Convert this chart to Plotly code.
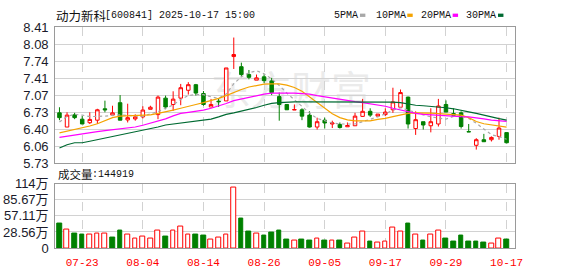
import plotly.graph_objects as go

W, H = 578, 276

dates = ["07-18", "07-21", "07-22", "07-23", "07-24", "07-25", "07-28", "07-29", "07-30", "07-31",
         "08-01", "08-04", "08-05", "08-06", "08-07", "08-08", "08-11", "08-12", "08-13", "08-14",
         "08-15", "08-18", "08-19", "08-20", "08-21", "08-22", "08-25", "08-26", "08-27", "08-28",
         "08-29", "09-01", "09-02", "09-03", "09-04", "09-05", "09-08", "09-09", "09-10", "09-11",
         "09-12", "09-15", "09-16", "09-17", "09-18", "09-19", "09-22", "09-23", "09-24", "09-25",
         "09-26", "09-29", "09-30", "10-09", "10-10", "10-13", "10-14", "10-15", "10-16", "10-17"]

opens = [6.72, 6.44, 6.68, 6.595, 6.525, 6.575, 6.80, 6.675, 6.92, 6.58,
         6.60, 6.64, 6.79, 6.685, 7.01, 6.885, 7.01, 7.165, 7.275, 7.10,
         6.835, 6.95, 6.955, 7.83, 7.63, 7.475, 7.365, 7.43, 7.35, 7.04,
         6.885, 6.775, 6.78, 6.675, 6.44, 6.575, 6.50, 6.49, 6.445, 6.465,
         6.65, 6.75, 6.655, 6.685, 6.78, 6.83, 7.03, 6.41, 6.545, 6.465,
         6.50, 6.885, 6.705, 6.72, 6.35, 6.08, 6.19, 6.19, 6.255, 6.33]
highs = [6.83, 6.73, 6.72, 6.66, 6.73, 6.80, 6.96, 6.86, 7.07, 6.90,
         6.69, 6.85, 6.86, 7.06, 7.06, 7.145, 7.29, 7.325, 7.29, 7.15,
         6.995, 7.01, 7.605, 8.205, 7.71, 7.565, 7.475, 7.48, 7.41, 7.12,
         6.885, 6.885, 6.81, 6.75, 6.625, 6.625, 6.565, 6.53, 6.53, 6.72,
         6.995, 6.81, 6.695, 6.81, 7.215, 7.18, 7.04, 6.75, 6.545, 6.81,
         6.995, 6.965, 6.81, 6.75, 6.50, 6.22, 6.305, 6.255, 6.625, 6.33]
lows = [6.575, 6.44, 6.595, 6.50, 6.50, 6.50, 6.73, 6.655, 6.575, 6.53,
        6.565, 6.61, 6.79, 6.595, 6.79, 6.76, 6.87, 7.08, 7.06, 6.86,
        6.835, 6.835, 6.955, 7.585, 7.43, 7.38, 7.365, 7.305, 7.07, 6.565,
        6.78, 6.775, 6.575, 6.43, 6.39, 6.41, 6.42, 6.41, 6.445, 6.465,
        6.64, 6.64, 6.655, 6.655, 6.72, 6.83, 6.41, 6.285, 6.39, 6.335,
        6.45, 6.735, 6.67, 6.41, 6.345, 5.995, 6.15, 6.155, 6.19, 6.12]
closes = [6.625, 6.675, 6.625, 6.50, 6.59, 6.78, 6.78, 6.72, 6.575, 6.625,
          6.64, 6.775, 6.83, 7.03, 6.835, 6.99, 7.215, 7.275, 7.11, 6.885,
          6.885, 6.94, 7.605, 7.87, 7.475, 7.42, 7.41, 7.355, 7.12, 6.885,
          6.78, 6.785, 6.655, 6.44, 6.545, 6.52, 6.52, 6.43, 6.47, 6.655,
          6.75, 6.675, 6.695, 6.735, 6.935, 7.12, 6.50, 6.585, 6.48, 6.545,
          6.855, 6.735, 6.67, 6.45, 6.345, 6.19, 6.15, 6.235, 6.42, 6.13]

ma5 = [6.54, 6.65, 6.69, 6.675, 6.645, 6.645, 6.655, 6.67, 6.68, 6.67,
       6.66, 6.65, 6.70, 6.745, 6.81, 6.875, 6.985, 7.06, 7.08, 7.08,
       7.035, 7.005, 7.09, 7.295, 7.43, 7.51, 7.55, 7.49, 7.39, 7.26,
       7.11, 6.98, 6.85, 6.715, 6.61, 6.565, 6.52, 6.50, 6.495, 6.50,
       6.545, 6.59, 6.64, 6.70, 6.775, 6.82, 6.77, 6.73, 6.68, 6.64,
       6.61, 6.595, 6.65, 6.655, 6.61, 6.515, 6.40, 6.29, 6.25, 6.20]
ma10 = [6.325, 6.355, 6.385, 6.42, 6.46, 6.505, 6.57, 6.625, 6.655, 6.66,
        6.66, 6.66, 6.68, 6.71, 6.735, 6.775, 6.81, 6.84, 6.885, 6.92,
        6.96, 7.005, 7.06, 7.125, 7.18, 7.23, 7.265, 7.285, 7.29, 7.29,
        7.265, 7.22, 7.145, 7.035, 6.92, 6.80, 6.70, 6.625, 6.58, 6.56,
        6.555, 6.56, 6.59, 6.61, 6.645, 6.68, 6.71, 6.72, 6.72, 6.715,
        6.705, 6.70, 6.69, 6.675, 6.625, 6.55, 6.505, 6.485, 6.47, 6.44]
ma20 = [6.235, 6.26, 6.29, 6.315, 6.335, 6.35, 6.37, 6.39, 6.40, 6.42,
        6.44, 6.475, 6.515, 6.56, 6.60, 6.66, 6.71, 6.73, 6.75, 6.775,
        6.81, 6.85, 6.905, 6.96, 6.995, 7.035, 7.06, 7.09, 7.11, 7.115,
        7.11, 7.11, 7.10, 7.09, 7.06, 7.035, 7.005, 6.99, 6.96, 6.94,
        6.92, 6.90, 6.885, 6.85, 6.81, 6.775, 6.745, 6.71, 6.69, 6.68,
        6.665, 6.66, 6.655, 6.645, 6.64, 6.625, 6.60, 6.575, 6.565, 6.55]
ma30 = [6.025, 6.09, 6.13, 6.13, 6.16, 6.19, 6.22, 6.255, 6.285, 6.315,
        6.34, 6.365, 6.41, 6.44, 6.48, 6.50, 6.53, 6.55, 6.565, 6.585,
        6.595, 6.64, 6.69, 6.72, 6.75, 6.78, 6.825, 6.87, 6.905, 6.92,
        6.93, 6.935, 6.935, 6.935, 6.935, 6.935, 6.935, 6.935, 6.935, 6.935,
        6.935, 6.935, 6.935, 6.935, 6.93, 6.92, 6.89, 6.87, 6.86, 6.85,
        6.84, 6.82, 6.80, 6.775, 6.74, 6.71, 6.67, 6.635, 6.605, 6.575]

# volume in 万, and whether bar is drawn red (up) or green (down)
volumes = [43.4, 32.9, 25.0, 23.4, 23.9, 25.0, 26.2, 18.4, 31.2, 24.5,
           17.8, 21.2, 16.2, 31.2, 20.0, 31.2, 37.9, 24.5, 23.4, 21.7,
           15.0, 19.5, 23.4, 106.3, 51.7, 30.0, 25.0, 21.7, 26.7, 31.7,
           15.0, 12.8, 15.0, 13.4, 17.8, 13.4, 12.8, 13.4, 8.3, 19.5,
           29.5, 11.2, 9.5, 11.2, 36.2, 29.5, 43.4, 23.4, 13.4, 23.4,
           31.2, 16.7, 11.7, 21.7, 11.7, 11.7, 10.0, 7.8, 17.8, 14.4919]
vol_up = [0, 1, 0, 0, 1, 1, 1, 0, 0, 1,
          1, 1, 1, 1, 0, 1, 1, 1, 0, 0,
          1, 1, 1, 1, 0, 0, 1, 0, 0, 0,
          0, 1, 0, 0, 1, 0, 1, 0, 1, 1,
          1, 0, 1, 1, 1, 1, 0, 1, 0, 1,
          1, 0, 0, 0, 0, 0, 0, 1, 1, 0]

price_ticks = [5.73, 6.065, 6.40, 6.735, 7.07, 7.405, 7.74, 8.075, 8.41]
price_labels = ["5.73", "6.06", "6.40", "6.73", "7.07", "7.41", "7.74", "8.08", "8.41"]
vol_ticks = [0, 28.555, 57.11, 85.665, 114.22]
vol_labels = ["0", "28.56万", "57.11万", "85.67万", "114万"]
date_tick_idx = [3, 11, 19, 27, 35, 43, 51, 59]

title_name = "动力新科"
title_rest = "[600841] 2025-10-17 15:00"
vol_title = "成交量"
vol_last = ":144919"
ma_names = ["5PMA", "10PMA", "20PMA", "30PMA"]
ma_colors = ["#a8a8a8", "#f5a300", "#ff00ff", "#006a32"]

RED = "#ff0000"
GREEN = "#008000"

x = list(range(len(dates)))

fig = go.Figure()

fig.add_trace(go.Candlestick(
    x=x, open=opens, high=highs, low=lows, close=closes,
    increasing=dict(line=dict(color=RED, width=1), fillcolor="#ffffff"),
    decreasing=dict(line=dict(color=GREEN, width=1), fillcolor=GREEN),
    whiskerwidth=0, showlegend=False, hoverinfo="skip",
    xaxis="x", yaxis="y"))

for vals, col, dash in [(ma5, ma_colors[0], "dot"), (ma10, ma_colors[1], "solid"),
                        (ma20, ma_colors[2], "solid"), (ma30, ma_colors[3], "solid")]:
    fig.add_trace(go.Scatter(x=x, y=vals, mode="lines",
                             line=dict(color=col, width=1.2, dash=dash),
                             showlegend=False, hoverinfo="skip",
                             xaxis="x", yaxis="y"))

fig.add_trace(go.Bar(
    x=x, y=volumes, width=0.62,
    marker=dict(color=["#ffffff" if u else GREEN for u in vol_up],
                line=dict(color=[RED if u else GREEN for u in vol_up], width=1)),
    showlegend=False, hoverinfo="skip", xaxis="x2", yaxis="y2"))


def px(v):
    return v / W


def py(v):
    return 1 - v / H


xdom = [px(56), px(522)]
xr = [-0.56, 60.08]
grid = "#d2d2d2"
frame = "#9a9a9a"

fig.update_layout(
    width=W, height=H,
    margin=dict(l=0, r=0, t=0, b=0),
    paper_bgcolor="#ffffff", plot_bgcolor="#ffffff",
    boxgap=0.34,
    bargap=0,
    xaxis=dict(domain=xdom, range=xr, anchor="y", tickvals=date_tick_idx,
               showticklabels=False, showgrid=True, gridcolor=grid, griddash="dash",
               gridwidth=1, showline=True, mirror=True, linecolor=frame, linewidth=1,
               zeroline=False, ticks="", rangeslider=dict(visible=False), fixedrange=True),
    yaxis=dict(domain=[py(165), py(21.3)], range=[price_ticks[0], price_ticks[-1]],
               anchor="x", tickvals=price_ticks, ticktext=price_labels,
               tickfont=dict(family="Liberation Sans, Arial", size=13, color="#1a1a2a"),
               showgrid=True, gridcolor=grid, gridwidth=1, showline=True, mirror=True,
               linecolor=frame, linewidth=1, zeroline=False, ticks="outside",
               ticklen=3, tickcolor="#ffffff", fixedrange=True),
    xaxis2=dict(domain=xdom, range=xr, anchor="y2", tickvals=date_tick_idx,
                ticktext=[dates[i] for i in date_tick_idx],
                tickfont=dict(family="Liberation Mono", size=11, color=RED),
                showgrid=True, gridcolor=grid, griddash="dash", gridwidth=1,
                showline=True, mirror=True, linecolor=frame, linewidth=1,
                zeroline=False, ticks="outside", ticklen=4, tickcolor="#ffffff",
                fixedrange=True),
    yaxis2=dict(domain=[py(255), py(186.7)], range=[vol_ticks[0], vol_ticks[-1]],
                anchor="x2", tickvals=vol_ticks, ticktext=vol_labels,
                tickfont=dict(family="Liberation Sans, Noto Sans CJK SC", size=13, color="#1a1a2a"),
                showgrid=True, gridcolor=grid, gridwidth=1, showline=True, mirror=True,
                linecolor=frame, linewidth=1, zeroline=False, ticks="outside",
                ticklen=3, tickcolor="#ffffff", fixedrange=True),
)

# watermark behind the data
fig.add_shape(type="rect", xref="paper", yref="paper",
              x0=px(205), x1=px(385), y0=py(115), y1=py(70),
              line=dict(width=0), fillcolor="rgba(0,0,0,0)", layer="below",
              label=dict(text="东方财富", textposition="middle center",
                         font=dict(family="Noto Sans CJK SC", size=40, color="#ebebeb")))

ann = []
ann.append(dict(text=title_name, x=px(55), y=py(8.5), xref="paper", yref="paper",
                xanchor="left", yanchor="middle", showarrow=False,
                font=dict(family="Noto Sans CJK SC", size=12.5, color="#111111")))
ann.append(dict(text=title_rest, x=px(104), y=py(8.5), xref="paper", yref="paper",
                xanchor="left", yanchor="middle", showarrow=False,
                font=dict(family="Liberation Mono", size=10, color="#111111")))
ann.append(dict(text=vol_title, x=px(57), y=py(177), xref="paper", yref="paper",
                xanchor="left", yanchor="middle", showarrow=False,
                font=dict(family="Noto Sans CJK SC", size=11.5, color="#111111")))
ann.append(dict(text=vol_last, x=px(91), y=py(177), xref="paper", yref="paper",
                xanchor="left", yanchor="middle", showarrow=False,
                font=dict(family="Liberation Mono", size=10, color="#111111")))

leg_text_x = [337, 379, 425, 471]
leg_sq_x = [365, 413, 459, 505]
for name, col, tx, sx in zip(ma_names, ma_colors, leg_text_x, leg_sq_x):
    ann.append(dict(text=name, x=px(tx), y=py(9), xref="paper", yref="paper",
                    xanchor="left", yanchor="middle", showarrow=False,
                    font=dict(family="Liberation Mono", size=10, color="#111111")))
    fig.add_shape(type="rect", xref="paper", yref="paper",
                  x0=px(sx), x1=px(sx + 5.5), y0=py(10.5), y1=py(7),
                  line=dict(width=0), fillcolor=col)

fig.update_layout(annotations=ann)

fig.write_html("out.html")
